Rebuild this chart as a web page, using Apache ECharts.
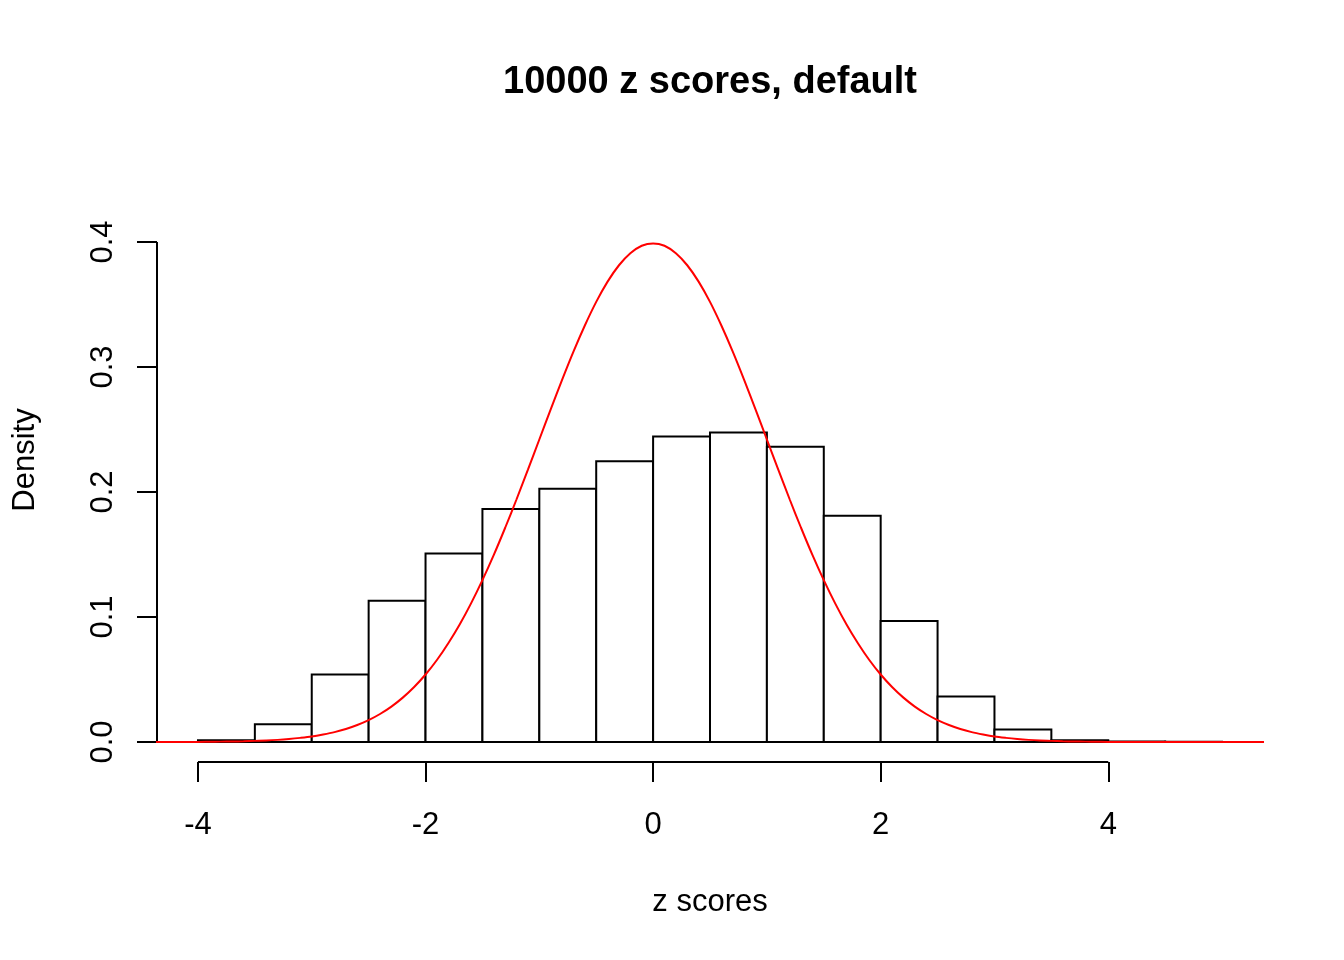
<!DOCTYPE html>
<html>
<head>
<meta charset="utf-8">
<title>10000 z scores, default</title>
<script src="https://cdn.jsdelivr.net/npm/echarts@6/dist/echarts.min.js"></script>
<style>
  html, body { margin: 0; padding: 0; background: #ffffff; }
  #chart { width: 1344px; height: 960px; }
</style>
</head>
<body>
<div id="chart"></div>
<script>
// Histogram bin edges and densities (density = count / (n * binWidth))
const binStarts = [-4, -3.5, -3, -2.5, -2, -1.5, -1, -0.5, 0, 0.5, 1, 1.5, 2, 2.5, 3, 3.5, 4, 4.5];
const binEnds   = [-3.5, -3, -2.5, -2, -1.5, -1, -0.5, 0, 0.5, 1, 1.5, 2, 2.5, 3, 3.5, 4, 4.5, 5];
const densities = [0.0014, 0.0142, 0.0540, 0.1130, 0.1508, 0.1864, 0.2026, 0.2246, 0.2444, 0.2476,
                   0.2362, 0.1810, 0.0968, 0.0364, 0.0100, 0.0014, 0.0004, 0.0002];

// Standard normal density curve, sampled every 0.1 from -4.4 to 5.4
const curveX = [
  -4.4, -4.3, -4.2, -4.1, -4.0, -3.9, -3.8, -3.7, -3.6, -3.5, -3.4, -3.3, -3.2, -3.1, -3.0,
  -2.9, -2.8, -2.7, -2.6, -2.5, -2.4, -2.3, -2.2, -2.1, -2.0, -1.9, -1.8, -1.7, -1.6, -1.5,
  -1.4, -1.3, -1.2, -1.1, -1.0, -0.9, -0.8, -0.7, -0.6, -0.5, -0.4, -0.3, -0.2, -0.1, 0.0,
  0.1, 0.2, 0.3, 0.4, 0.5, 0.6, 0.7, 0.8, 0.9, 1.0, 1.1, 1.2, 1.3, 1.4, 1.5,
  1.6, 1.7, 1.8, 1.9, 2.0, 2.1, 2.2, 2.3, 2.4, 2.5, 2.6, 2.7, 2.8, 2.9, 3.0,
  3.1, 3.2, 3.3, 3.4, 3.5, 3.6, 3.7, 3.8, 3.9, 4.0, 4.1, 4.2, 4.3, 4.4, 4.5,
  4.6, 4.7, 4.8, 4.9, 5.0, 5.1, 5.2, 5.3, 5.4
];
const curveY = [
  0.0000, 0.0000, 0.0001, 0.0001, 0.0001, 0.0002, 0.0003, 0.0004, 0.0006, 0.0009, 0.0012, 0.0017, 0.0024, 0.0033, 0.0044,
  0.0060, 0.0079, 0.0104, 0.0136, 0.0175, 0.0224, 0.0283, 0.0355, 0.0440, 0.0540, 0.0656, 0.0790, 0.0940, 0.1109, 0.1295,
  0.1497, 0.1714, 0.1942, 0.2179, 0.2420, 0.2661, 0.2897, 0.3123, 0.3332, 0.3521, 0.3683, 0.3814, 0.3910, 0.3970, 0.3989,
  0.3970, 0.3910, 0.3814, 0.3683, 0.3521, 0.3332, 0.3123, 0.2897, 0.2661, 0.2420, 0.2179, 0.1942, 0.1714, 0.1497, 0.1295,
  0.1109, 0.0940, 0.0790, 0.0656, 0.0540, 0.0440, 0.0355, 0.0283, 0.0224, 0.0175, 0.0136, 0.0104, 0.0079, 0.0060, 0.0044,
  0.0033, 0.0024, 0.0017, 0.0012, 0.0009, 0.0006, 0.0004, 0.0003, 0.0002, 0.0001, 0.0001, 0.0001, 0.0000, 0.0000, 0.0000,
  0.0000, 0.0000, 0.0000, 0.0000, 0.0000, 0.0000, 0.0000, 0.0000, 0.0000
];

// Axis ticks and plot ranges
const xTicks = [-4, -2, 0, 2, 4];
const yTicks = [0, 0.1, 0.2, 0.3, 0.4];
const xRange = [-4.36, 5.36];
const yRange = [-0.016, 0.416];

const FONT = '"Liberation Sans", Arial, Helvetica, sans-serif';

const bins = binStarts.map((s, i) => [s, binEnds[i], densities[i]]);
const curve = curveX.map((x, i) => [x, curveY[i]]);

const chart = echarts.init(document.getElementById('chart'), null, { renderer: 'canvas' });

chart.setOption({
  animation: false,
  backgroundColor: '#ffffff',
  title: {
    text: '10000 z scores, default',
    left: 710,
    top: 64,
    textAlign: 'center',
    padding: 0,
    textStyle: { fontFamily: FONT, fontSize: 38, fontWeight: 'bold', color: '#000' }
  },
  grid: { left: 157, right: 81, top: 222, bottom: 198 },
  xAxis: {
    type: 'value',
    min: xRange[0],
    max: xRange[1],
    name: 'z scores',
    nameLocation: 'middle',
    nameGap: 125,
    nameTextStyle: { fontFamily: FONT, fontSize: 31, color: '#000' },
    splitLine: { show: false },
    axisLine: { show: false, onZero: false },
    axisTick: {
      show: true,
      length: 20,
      customValues: xTicks,
      lineStyle: { color: '#000', width: 2 }
    },
    axisLabel: {
      customValues: xTicks,
      margin: 48,
      fontFamily: FONT,
      fontSize: 31,
      color: '#000'
    }
  },
  yAxis: {
    type: 'value',
    min: yRange[0],
    max: yRange[1],
    splitLine: { show: false },
    axisLine: { show: false, onZero: false },
    axisTick: {
      show: true,
      length: 20,
      customValues: yTicks,
      lineStyle: { color: '#000', width: 2 }
    },
    axisLabel: {
      customValues: yTicks,
      rotate: 90,
      align: 'center',
      verticalAlign: 'middle',
      margin: 54,
      fontFamily: FONT,
      fontSize: 31,
      color: '#000',
      formatter: v => v.toFixed(1)
    }
  },
  graphic: [{
    type: 'text',
    x: 25,
    y: 460,
    rotation: Math.PI / 2,
    style: {
      text: 'Density',
      x: 0,
      y: 0,
      align: 'center',
      verticalAlign: 'middle',
      font: '31px ' + FONT,
      fill: '#000'
    }
  }],
  series: [
    {
      // histogram bars
      type: 'custom',
      data: bins,
      encode: { x: [0, 1], y: 2 },
      clip: false,
      z: 2,
      silent: true,
      renderItem: (params, api) => {
        const topLeft = api.coord([api.value(0), api.value(2)]);
        const bottomRight = api.coord([api.value(1), 0]);
        return {
          type: 'rect',
          shape: {
            x: topLeft[0],
            y: topLeft[1],
            width: bottomRight[0] - topLeft[0],
            height: bottomRight[1] - topLeft[1]
          },
          style: { fill: '#ffffff', stroke: '#000000', lineWidth: 2 }
        };
      }
    },
    {
      // bottom axis line spanning the labelled ticks
      type: 'line',
      data: [[xTicks[0], yRange[0]], [xTicks[xTicks.length - 1], yRange[0]]],
      symbol: 'none',
      clip: false,
      silent: true,
      z: 3,
      lineStyle: { color: '#000', width: 2 }
    },
    {
      // left axis line spanning the labelled ticks
      type: 'line',
      data: [[xRange[0], yTicks[0]], [xRange[0], yTicks[yTicks.length - 1]]],
      symbol: 'none',
      clip: false,
      silent: true,
      z: 3,
      lineStyle: { color: '#000', width: 2 }
    },
    {
      // normal density curve
      type: 'line',
      data: curve,
      symbol: 'none',
      smooth: 0.3,
      clip: true,
      silent: true,
      z: 4,
      lineStyle: { color: '#ff0000', width: 2 }
    }
  ]
});
</script>
</body>
</html>
